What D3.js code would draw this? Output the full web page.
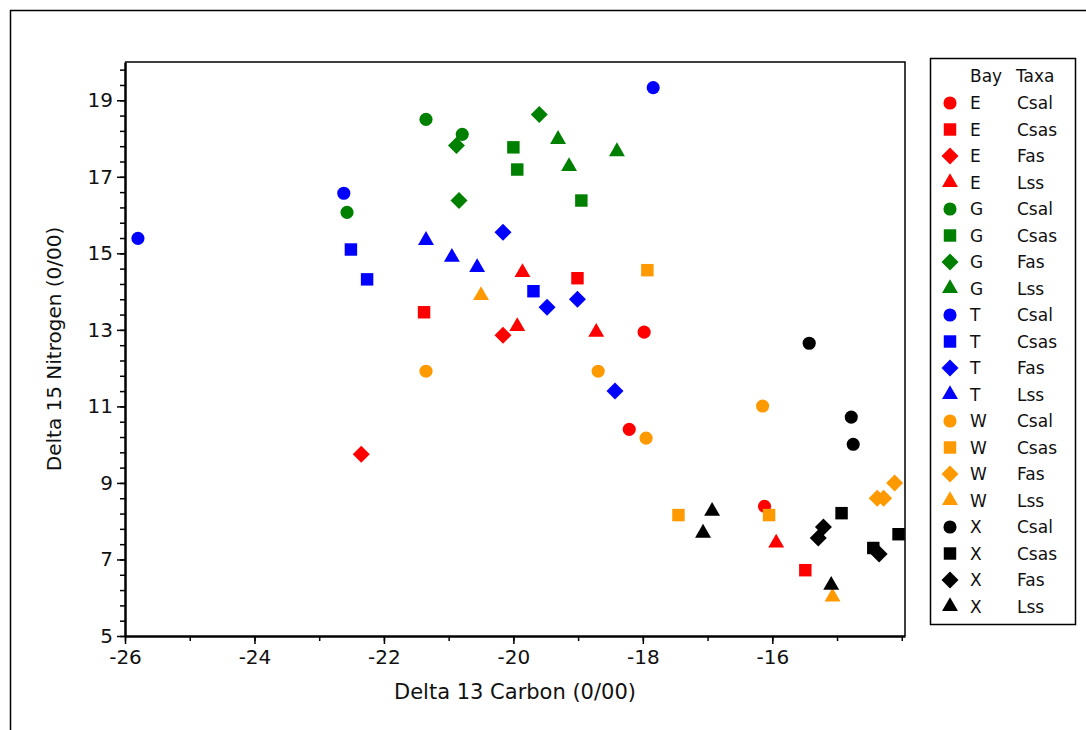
<!DOCTYPE html>
<html>
<head>
<meta charset="utf-8">
<script src="https://cdn.jsdelivr.net/npm/d3@7"></script>
<style>
  body { margin: 0; background: #fff; }
  svg { display: block; font-family: "DejaVu Sans", Verdana, sans-serif; }
</style>
</head>
<body>
<div id="chart"></div>
<script>
// groups
const bays = ["E", "G", "T", "W", "X"]
const taxa = ["Csal", "Csas", "Fas", "Lss"]
const bayColors = ["#ff0000", "#008000", "#0000ff", "#ff9900", "#000000"]

const xTicks = [-26, -24, -22, -20, -18, -16]
const yTicks = [5, 7, 9, 11, 13, 15, 17, 19]

// [delta13C, delta15N] for each bay / taxa
const eCsal = [[-17.98, 12.94], [-18.21, 10.40], [-16.12, 8.39]]
const eCsas = [[-19.01, 14.35], [-21.38, 13.46], [-15.49, 6.72]]
const eFas = [[-22.35, 9.75], [-20.16, 12.86]]
const eLss = [[-19.86, 14.50], [-19.94, 13.09], [-18.72, 12.94], [-15.94, 7.43]]

const gCsal = [[-21.35, 18.50], [-20.79, 18.11], [-22.57, 16.07]]
const gCsas = [[-20.00, 17.77], [-19.94, 17.19], [-18.95, 16.38]]
const gFas = [[-20.88, 17.82], [-20.84, 16.38], [-19.60, 18.63]]
const gLss = [[-19.31, 17.98], [-19.14, 17.27], [-18.40, 17.66]]

const tCsal = [[-25.80, 15.39], [-22.62, 16.57], [-17.84, 19.33]]
const tCsas = [[-22.51, 15.10], [-22.26, 14.32], [-19.69, 14.01]]
const tFas = [[-20.16, 15.55], [-19.48, 13.59], [-19.01, 13.80], [-18.43, 11.40]]
const tLss = [[-21.35, 15.34], [-20.95, 14.90], [-20.56, 14.63]]

const wCsal = [[-21.35, 11.92], [-18.69, 11.92], [-17.95, 10.17], [-16.15, 11.01]]
const wCsas = [[-17.93, 14.56], [-17.45, 8.16], [-16.05, 8.16]]
const wFas = [[-14.38, 8.60], [-14.28, 8.60], [-14.11, 9.00]]
const wLss = [[-20.50, 13.90], [-15.07, 6.02]]

const xCsal = [[-15.43, 12.65], [-14.78, 10.72], [-14.75, 10.01]]
const xCsas = [[-14.93, 8.21], [-14.05, 7.66], [-14.44, 7.30]]
const xFas = [[-15.21, 7.85], [-15.29, 7.56], [-14.35, 7.14]]
const xLss = [[-16.93, 8.26], [-17.07, 7.69], [-15.09, 6.33]]

const seriesData = [
    [eCsal, eCsas, eFas, eLss],
    [gCsal, gCsas, gFas, gLss],
    [tCsal, tCsas, tFas, tLss],
    [wCsal, wCsas, wFas, wLss],
    [xCsal, xCsas, xFas, xLss]
]

const margin = { top: 62, left: 125 },
    plotRight = 905,
    plotBottom = 636;

const svg = d3.select("#chart")
    .append("svg")
    .attr("width", 1086)
    .attr("height", 730);

// outer frame
svg.append("rect")
    .attr("x", 10.5).attr("y", 10.5)
    .attr("width", 1200).attr("height", 900)
    .attr("fill", "none")
    .attr("stroke", "#000")
    .attr("stroke-width", 1.5);

let x = d3.scaleLinear()
    .domain([-26, -13.95])
    .range([margin.left, plotRight]);

let y = d3.scaleLinear()
    .domain([5, 20])
    .range([plotBottom, margin.top]);

// plot box top / right
svg.append("path")
    .attr("d", `M${margin.left},${margin.top}H${plotRight}V${plotBottom}`)
    .attr("fill", "none")
    .attr("stroke", "#000")
    .attr("stroke-width", 1.5);

// minor ticks
svg.append("g")
    .attr("transform", `translate(${margin.left},0)`)
    .call(d3.axisLeft(y).tickValues(d3.range(5, 20.01, 0.4)).tickSize(5).tickFormat(""))
    .call(g => g.select(".domain").remove());
svg.append("g")
    .attr("transform", `translate(0,${plotBottom})`)
    .call(d3.axisBottom(x).tickValues(d3.range(-26, -13.9, 1)).tickSize(5).tickFormat(""))
    .call(g => g.select(".domain").remove());

// plain hyphen minus, like the original
const plain = d => String(d)

let yAxis = svg.append("g")
    .attr("transform", `translate(${margin.left},0)`)
    .call(d3.axisLeft(y).tickValues(yTicks).tickFormat(plain).tickSize(8).tickPadding(4).tickSizeOuter(0));

let xAxis = svg.append("g")
    .attr("transform", `translate(0,${plotBottom})`)
    .call(d3.axisBottom(x).tickValues(xTicks).tickFormat(plain).tickSize(8).tickPadding(6).tickSizeOuter(0));

svg.selectAll(".tick line").attr("stroke", "#000").attr("stroke-width", 1.5);
yAxis.select(".domain").attr("stroke-width", 2.5);
xAxis.select(".domain").attr("stroke-width", 2.5);

yAxis.selectAll("text")
    .attr("font-size", "20px")
    .attr("font-family", "DejaVu Sans")
    .attr("fill", "#111");
xAxis.selectAll("text")
    .attr("font-size", "20px")
    .attr("font-family", "DejaVu Sans")
    .attr("fill", "#111");

svg.append("text")
    .attr("x", 515).attr("y", 699)
    .attr("text-anchor", "middle")
    .attr("font-size", "21px")
    .attr("fill", "#111")
    .text("Delta 13 Carbon (0/00)");

svg.append("text")
    .attr("transform", "translate(61,349) rotate(-90)")
    .attr("text-anchor", "middle")
    .attr("font-size", "20px")
    .attr("fill", "#111")
    .text("Delta 15 Nitrogen (0/00)");

// marker shapes per taxa
const shapes = [d3.symbolCircle, d3.symbolSquare, d3.symbolDiamond, d3.symbolTriangle]
const sizes = [135, 155, 150, 110]

function markerPath(t) {
    if (t === 2) {
        // wider diamond
        return "M0,-8.5L8.5,0L0,8.5L-8.5,0Z"
    }
    return d3.symbol().type(shapes[t]).size(sizes[t])()
}

seriesData.forEach(function (row, b) {
    row.forEach(function (pts, t) {
        svg.append("g")
            .selectAll("path")
            .data(pts)
            .enter().append("path")
            .attr("d", markerPath(t))
            .attr("transform", function (d) { return `translate(${x(d[0])},${y(d[1])})` })
            .attr("fill", bayColors[b]);
    })
})

// legend
const legend = svg.append("g");
legend.append("rect")
    .attr("x", 930.5).attr("y", 58.5)
    .attr("width", 145).attr("height", 566)
    .attr("fill", "#fff")
    .attr("stroke", "#000")
    .attr("stroke-width", 1.5);

legend.append("text").attr("x", 970).attr("y", 82).attr("font-size", "17px").attr("fill", "#111").text("Bay");
legend.append("text").attr("x", 1016).attr("y", 82).attr("font-size", "17px").attr("fill", "#111").text("Taxa");

let row = 0
bays.forEach(function (bay, b) {
    taxa.forEach(function (tx, t) {
        const ly = 103 + row * 26.5
        legend.append("path")
            .attr("d", markerPath(t))
            .attr("transform", `translate(950,${ly})`)
            .attr("fill", bayColors[b]);
        legend.append("text")
            .attr("x", 970).attr("y", ly + 6)
            .attr("font-size", "17px").attr("fill", "#111")
            .text(bay);
        legend.append("text")
            .attr("x", 1017).attr("y", ly + 6)
            .attr("font-size", "17px").attr("fill", "#111")
            .text(tx);
        row++
    })
})
</script>
</body>
</html>
